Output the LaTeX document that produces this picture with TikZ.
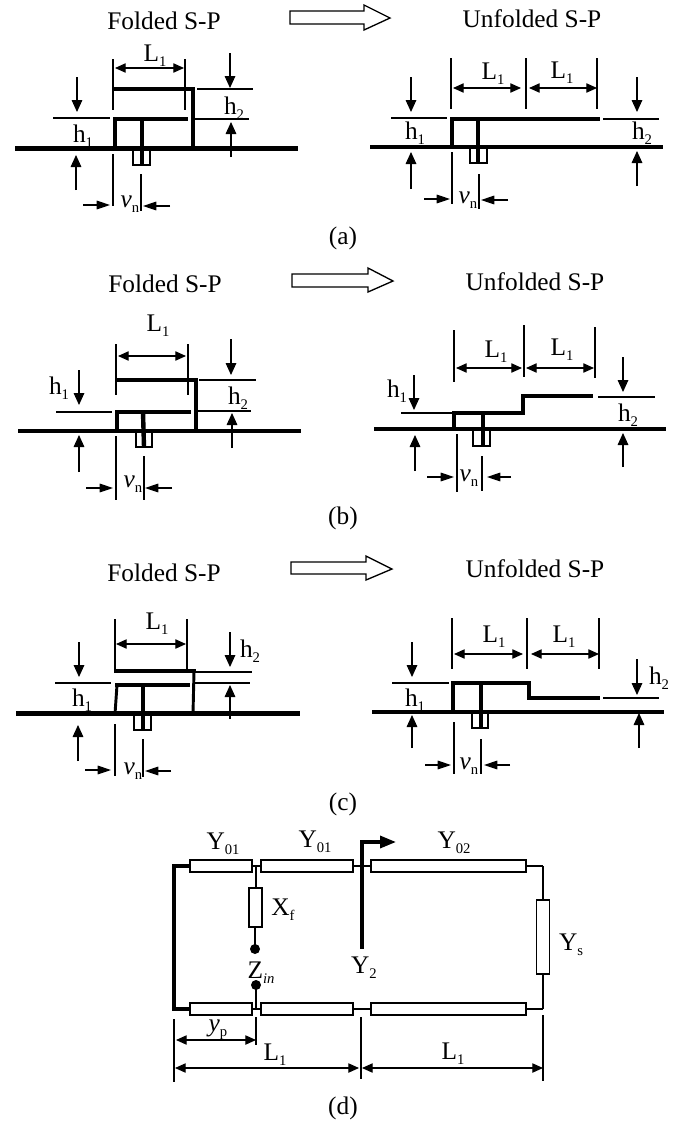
\documentclass[tikz,border=0pt]{standalone}
\usepackage{fontspec}
\setmainfont{Liberation Serif}
\usetikzlibrary{arrows.meta}
\newcommand{\lo}[1]{\raisebox{-0.2em}{\fontsize{11}{11}\selectfont #1}}
\tikzset{
  x=0.75pt,y=-0.75pt,
  lab/.style={inner sep=0pt,font=\fontsize{19}{21}\selectfont},
  gnd/.style={line width=3.2pt},
  cond/.style={line width=2.5pt,line cap=rect},
  feedline/.style={line width=3.3pt},
  rule/.style={line width=0.8pt},
  dimv/.style={line width=0.8pt,-{Stealth[length=9pt,width=8pt,inset=0pt]}},
  dimh/.style={line width=0.8pt,-{Stealth[length=10pt,width=6.5pt,inset=0pt]}},
  dimb/.style={line width=0.8pt,{Stealth[length=8pt,width=7pt,inset=0pt]}-{Stealth[length=8pt,width=7pt,inset=0pt]}},
  portbox/.style={draw,line width=1pt,fill=white},
  bigarrow/.style={draw,line width=1pt,fill=white},
  tl/.style={draw,line width=1.1pt,fill=white,inner sep=0pt,minimum height=9pt},
  tlv/.style={draw,line width=1.1pt,fill=white,inner sep=0pt,minimum width=9.5pt},
  wire/.style={line width=1.5pt},
  heavy/.style={line width=2.5pt,line cap=rect},
  dot/.style={circle,fill=black,inner sep=0pt,minimum size=7.5pt},
}
\begin{document}
\begin{tikzpicture}
\useasboundingbox (0,0) rectangle (684,1121);
\fill[white] (0,0) rectangle (684,1121);

% ---------- (a) ----------
\node[lab] (aft) at (164,21) {Folded S-P};
\node[lab] (aut) at (532,19) {Unfolded S-P};
\draw[bigarrow] (290,11) -- (364,11) -- (364,5) -- (390,18) -- (364,30) -- (364,24) -- (290,24) -- cycle;
% left
\draw[portbox] (133,148) rectangle (150,165);
\draw[gnd] (15,148.5) -- (298,148.5);
\draw[cond] (115,89) -- (193,89);
\draw[cond] (193,89) -- (193,148);
\draw[cond] (115,148) -- (115,119);
\draw[cond] (115,119) -- (186,119);
\draw[feedline] (142,119) -- (142,165);
\draw[rule] (113,59) -- (113,110) (185,59) -- (185,110);
\draw[dimb] (115,68) -- (184,68);
\node[lab] (al1) at (155,56) {L\lo{1}};
\draw[rule] (53,118) -- (110,118);
\draw[dimv] (77,77) -- (77,112);
\node[lab] (ah1) at (83,136) {h\lo{1}};
\draw[dimv] (76,190) -- (76,155);
\draw[rule] (113,154) -- (113,206) (141,174) -- (141,211);
\draw[dimh] (83,205) -- (110,205);
\draw[dimh] (170,206) -- (143,206);
\node[lab] (avn) at (130,204) {\textit{v}\lo{n}};
\draw[rule] (197,89) -- (253,89) (194,119) -- (249,119);
\draw[dimv] (230,53) -- (230,88);
\node[lab] (ah2) at (234,108) {h\lo{2}};
\draw[dimv] (231,157) -- (231,122);
% right
\draw[portbox] (470,147) rectangle (487,163);
\draw[gnd] (370,146.7) -- (663,146.7);
\draw[cond] (452,147) -- (452,119);
\draw[cond] (452,119) -- (598,119);
\draw[feedline] (478,119) -- (478,163);
\draw[rule] (451,58) -- (451,109) (526,58) -- (526,109) (597,58) -- (597,109);
\draw[dimb] (453,88) -- (521,88);
\draw[dimb] (529,88) -- (597,88);
\node[lab] (ar1) at (493,74) {L\lo{1}};
\node[lab] (ar2) at (562,73) {L\lo{1}};
\draw[rule] (391,118) -- (447,118);
\draw[dimv] (411,77) -- (411,112);
\node[lab] (arh1) at (415,133) {h\lo{1}};
\draw[dimv] (411,189) -- (411,152);
\draw[rule] (452,152) -- (452,204) (479,174) -- (479,209);
\draw[dimh] (424,199) -- (450,199);
\draw[dimh] (508,200) -- (481,200);
\node[lab] (arvn) at (468,200) {\textit{v}\lo{n}};
\draw[rule] (603,119) -- (659,119);
\draw[dimv] (637,77) -- (637,112);
\node[lab] (arh2) at (642,133) {h\lo{2}};
\draw[dimv] (637,186) -- (637,151);
\node[lab] (acap) at (343,238) {(a)};

% ---------- (b) ----------
\node[lab] (bft) at (165,284) {Folded S-P};
\node[lab] (but) at (535,282) {Unfolded S-P};
\draw[bigarrow] (292,274) -- (368,274) -- (368,268) -- (393,281) -- (368,292) -- (368,287) -- (292,287) -- cycle;
% left
\draw[portbox] (136,431) rectangle (152,447);
\draw[gnd] (18,431) -- (301,431);
\draw[cond] (118,380) -- (196,380);
\draw[cond] (196,380) -- (196,431);
\draw[cond] (117,431) -- (117,412);
\draw[cond] (117,412) -- (189,412);
\draw[feedline] (143,412) -- (144,447);
\draw[rule] (116,344) -- (116,395) (188,344) -- (188,395);
\draw[dimb] (118,356) -- (186,356);
\node[lab] (bl1) at (158,326) {L\lo{1}};
\draw[rule] (56,412) -- (112,412);
\draw[dimv] (79,370) -- (79,405);
\node[lab] (bh1) at (59,388) {h\lo{1}};
\draw[dimv] (79,472) -- (79,435);
\draw[rule] (116,436) -- (116,500) (144,456) -- (144,500);
\draw[dimh] (86,488) -- (113,488);
\draw[dimh] (172,488) -- (145,488);
\node[lab] (bvn) at (133,484) {\textit{v}\lo{n}};
\draw[rule] (199,380) -- (256,380) (197,411) -- (251,411);
\draw[dimv] (231,339) -- (231,375);
\node[lab] (bh2) at (238,398) {h\lo{2}};
\draw[dimv] (232,448) -- (232,413);
% right
\draw[portbox] (473,429) rectangle (490,446);
\draw[gnd] (374,429) -- (666,429);
\draw[cond] (454,429) -- (454,413);
\draw[cond] (454,413) -- (523,413);
\draw[cond] (523,413) -- (523,396);
\draw[cond] (523,396) -- (591,396);
\draw[feedline] (483,413) -- (483,446);
\draw[rule] (454,330) -- (454,382) (524,325) -- (524,377) (595,327) -- (595,378);
\draw[dimb] (456,368) -- (522,368);
\draw[dimb] (526,368) -- (594,368);
\node[lab] (br1) at (496,352) {L\lo{1}};
\node[lab] (br2) at (562,350) {L\lo{1}};
\draw[rule] (401,413) -- (454,413);
\draw[dimv] (414,375) -- (414,410);
\node[lab] (brh1) at (397,391) {h\lo{1}};
\draw[dimv] (415,471) -- (415,435);
\draw[rule] (457,434) -- (457,492) (482,456) -- (482,491);
\draw[dimh] (427,477) -- (454,477);
\draw[dimh] (511,477) -- (487,477);
\node[lab] (brvn) at (469,478) {\textit{v}\lo{n}};
\draw[rule] (598,397) -- (655,397);
\draw[dimv] (623,357) -- (623,392);
\node[lab] (brh2) at (628,415) {h\lo{2}};
\draw[dimv] (623,467) -- (623,433);
\node[lab] (bcap) at (343,518) {(b)};

% ---------- (c) ----------
\node[lab] (cft) at (164,573) {Folded S-P};
\node[lab] (cut) at (535,569) {Unfolded S-P};
\draw[bigarrow] (291,562) -- (366,562) -- (366,556) -- (392,569) -- (366,580) -- (366,574) -- (291,574) -- cycle;
% left
\draw[portbox] (134,714) rectangle (151,730);
\draw[gnd] (16,713.5) -- (300,713.5);
\draw[cond] (116,671) -- (194,671);
\draw[line width=2.2pt] (194,671) -- (193,714);
\draw[line width=2.2pt] (115,714) -- (117,685);
\draw[cond] (117,685) -- (188,685);
\draw[feedline] (143,685) -- (143,730);
\draw[rule] (115,619) -- (115,672) (187,619) -- (187,670);
\draw[dimb] (116,644) -- (186,644);
\node[lab] (cl1) at (157,624) {L\lo{1}};
\draw[rule] (55,683) -- (111,683);
\draw[dimv] (79,642) -- (79,677);
\node[lab] (ch1) at (82,700) {h\lo{1}};
\draw[dimv] (78,761) -- (78,725);
\draw[rule] (115,724) -- (115,776) (143,739) -- (143,777);
\draw[dimh] (85,770) -- (111,770);
\draw[dimh] (171,771) -- (145,771);
\node[lab] (cvn) at (133,771) {\textit{v}\lo{n}};
\draw[rule] (195,672) -- (252,672) (195,683) -- (250,683);
\draw[dimv] (230,632) -- (230,667);
\node[lab] (ch2) at (250,651) {h\lo{2}};
\draw[dimv] (230,719) -- (230,685);
% right
\draw[portbox] (472,712) rectangle (488,728);
\draw[gnd] (372,712) -- (664,712);
\draw[cond] (453,712) -- (453,683);
\draw[cond] (453,683) -- (529,683);
\draw[cond] (529,683) -- (529,698);
\draw[cond] (529,698) -- (598,698);
\draw[feedline] (481,683) -- (481,728);
\draw[rule] (452,618) -- (452,669) (527,618) -- (527,669) (599,618) -- (599,669);
\draw[dimb] (454,654) -- (523,654);
\draw[dimb] (531,654) -- (599,654);
\node[lab] (cr1) at (494,637) {L\lo{1}};
\node[lab] (cr2) at (564,637) {L\lo{1}};
\draw[rule] (392,683) -- (449,683);
\draw[dimv] (412,642) -- (412,677);
\node[lab] (crh1) at (415,700) {h\lo{1}};
\draw[dimv] (412,748) -- (412,715);
\draw[rule] (454,722) -- (454,774) (481,739) -- (481,774);
\draw[dimh] (425,765) -- (451,765);
\draw[dimh] (510,765) -- (484,765);
\node[lab] (crvn) at (469,766) {\textit{v}\lo{n}};
\draw[rule] (603,698) -- (659,698);
\draw[dimv] (637,659) -- (637,695);
\node[lab] (crh2) at (659,678) {h\lo{2}};
\draw[dimv] (639,748) -- (639,713);
\node[lab] (ccap) at (343,804) {(c)};

% ---------- (d) ----------
\coordinate (tc) at (256,866);
\coordinate (bc) at (256,1009);
\coordinate (tr) at (543,866);
\coordinate (br) at (543,1009);
\coordinate (tl) at (174,866);
\coordinate (bl) at (174,1009);
\draw[heavy] (tl) -- (190,866);
\draw[heavy] (tl) -- (bl);
\draw[heavy] (bl) -- (190,1009);
\draw[wire] (190,866) -- (tr);
\draw[wire] (190,1009) -- (br);
\draw[wire] (tr) -- (br);
\draw[wire] (tc) -- (256,888);
\draw[wire] (255,927) -- (255,949);
\draw[wire] (256,985) -- (bc);
\node[tl,minimum width=46.5pt] (t1) at (221,866) {};
\node[tl,minimum width=69pt] (t2) at (307,866) {};
\node[tl,minimum width=116pt] (t3) at (448.5,866) {};
\node[tl,minimum width=46.5pt] (b1) at (221,1009) {};
\node[tl,minimum width=69pt] (b2) at (307,1009) {};
\node[tl,minimum width=116pt] (b3) at (448.5,1009) {};
\node[tlv,minimum height=29.25pt] (xf) at (255.5,907.5) {};
\node[tlv,minimum height=55.5pt] (ys) at (543,937) {};
\node[dot] (d1) at (255,949) {};
\node[dot] (d2) at (256,985) {};
\node[lab] (y1) at (223,844) {Y\lo{01}};
\node[lab] (y2) at (315,842) {Y\lo{01}};
\node[lab] (y3) at (454,843) {Y\lo{02}};
\node[lab] (xfl) at (283,910) {X\lo{f}};
\node[lab] (zin) at (261,973) {Z\lo{\textit{in}}};
\node[lab] (ytwo) at (364,968) {Y\lo{2}};
\node[lab] (ysl) at (571,945) {Y\lo{s}};
\coordinate (ya) at (362,947);
\coordinate (yb) at (362,842);
\coordinate (yc) at (396,842);
\draw[heavy] (ya) -- (yb);
\draw[line width=2.5pt,-{Stealth[length=12pt,width=9pt,inset=0pt]}] (yb) -- (yc);
\draw[rule] (174,1019) -- (174,1082) (256,1017) -- (256,1045) (361,1017) -- (361,1079) (543,1015) -- (543,1081);
\draw[dimb] (176,1040) -- (256,1040);
\node[lab] (yp) at (218,1030) {\textit{y}\lo{p}};
\draw[dimb] (175,1068) -- (359,1068);
\draw[dimb] (362,1068) -- (543,1068);
\node[lab] (dl1) at (275,1055) {L\lo{1}};
\node[lab] (dl2) at (453,1054) {L\lo{1}};
\node[lab] (dcap) at (343,1108) {(d)};
\end{tikzpicture}
\end{document}
